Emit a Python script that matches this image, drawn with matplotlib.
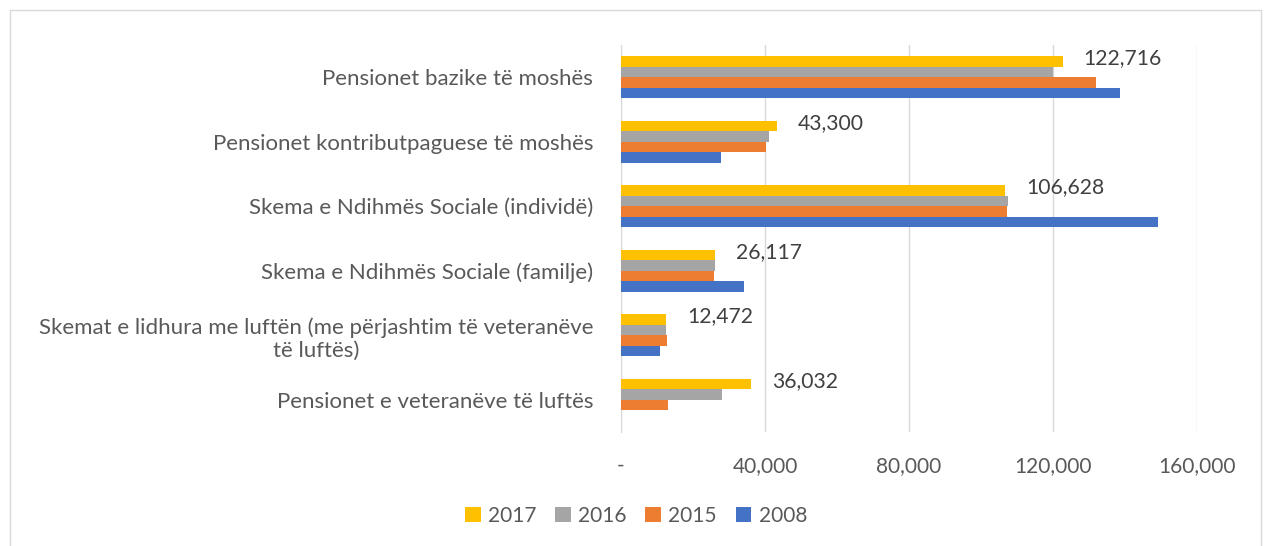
import numpy as np
import matplotlib
matplotlib.use("Agg")
import matplotlib.pyplot as plt
from matplotlib.patches import Rectangle

plt.rcParams["font.family"] = ["Lato", "DejaVu Sans"]

categories = [
    "Pensionet bazike të moshës",
    "Pensionet kontributpaguese të moshës",
    "Skema e Ndihmës Sociale (individë)",
    "Skema e Ndihmës Sociale (familje)",
    "Skemat e lidhura me luftën (me përjashtim të veteranëve\ntë luftës)",
    "Pensionet e veteranëve të luftës",
]
years = ["2017", "2016", "2015", "2008"]

# values (2017 from the data labels)
v2017 = [122716, 43300, 106628, 26117, 12472, 36032]
v2016 = [120100, 41200, 107400, 26100, 12560, 28000]
v2015 = [131900, 40200, 107200, 25750, 12880, 13100]
v2008 = [138600, 27650, 149100, 34200, 10870, np.nan]

colors = ["#FFC000", "#A5A5A5", "#ED7D31", "#4472C4"]
series = [v2017, v2016, v2015, v2008]

fig = plt.figure(figsize=(12.64, 5.46), dpi=100)
ax = fig.add_axes([621 / 1264, 1 - 432 / 546, (1197 - 621) / 1264, (432 - 45) / 546])

y = np.arange(len(categories))
h = 0.162
for j, (vals, col, yr) in enumerate(zip(series, colors, years)):
    ax.barh(y + (j - 1.5) * h, vals, height=h, color=col, label=yr, zorder=3)

# data labels for 2017 only
for i, v in enumerate(v2017):
    ax.annotate(f"{v:,}", xy=(v, y[i] - 1.5 * h), xytext=(21, 3),
                textcoords="offset pixels", va="center", ha="left",
                fontsize=15.2, color="#404040")

ax.set_ylim(len(categories) - 0.5, -0.5)
ax.set_xlim(0, 160000)
ax.set_xticks([0, 40000, 80000, 120000, 160000])
ax.set_xticklabels(["-", "40,000", "80,000", "120,000", "160,000"])
ax.set_yticks(y)
ax.set_yticklabels(categories)
for lab in ax.get_yticklabels():
    lab.set_multialignment("center")

ax.tick_params(axis="x", length=0, pad=17, labelsize=15, labelcolor="#595959")
ax.tick_params(axis="y", length=0, pad=20, labelsize=16, labelcolor="#595959")
ax.grid(axis="x", color="#D9D9D9", linewidth=1, zorder=0)
for s in ["top", "right", "bottom"]:
    ax.spines[s].set_visible(False)
ax.spines["left"].set_color("#D9D9D9")

fig.legend(loc="center", bbox_to_anchor=(636 / 1264, 1 - 516 / 546), ncol=4,
           frameon=False, fontsize=15, labelcolor="#595959",
           handlelength=0.75, handleheight=0.75, handletextpad=0.35, columnspacing=0.9)

fig.add_artist(Rectangle((10 / 1264, -0.05), 1251 / 1264, 1.05 - 10 / 546,
                         transform=fig.transFigure, fill=False,
                         edgecolor="#D9D9D9", linewidth=1))

fig.savefig("out.png", dpi=100)
